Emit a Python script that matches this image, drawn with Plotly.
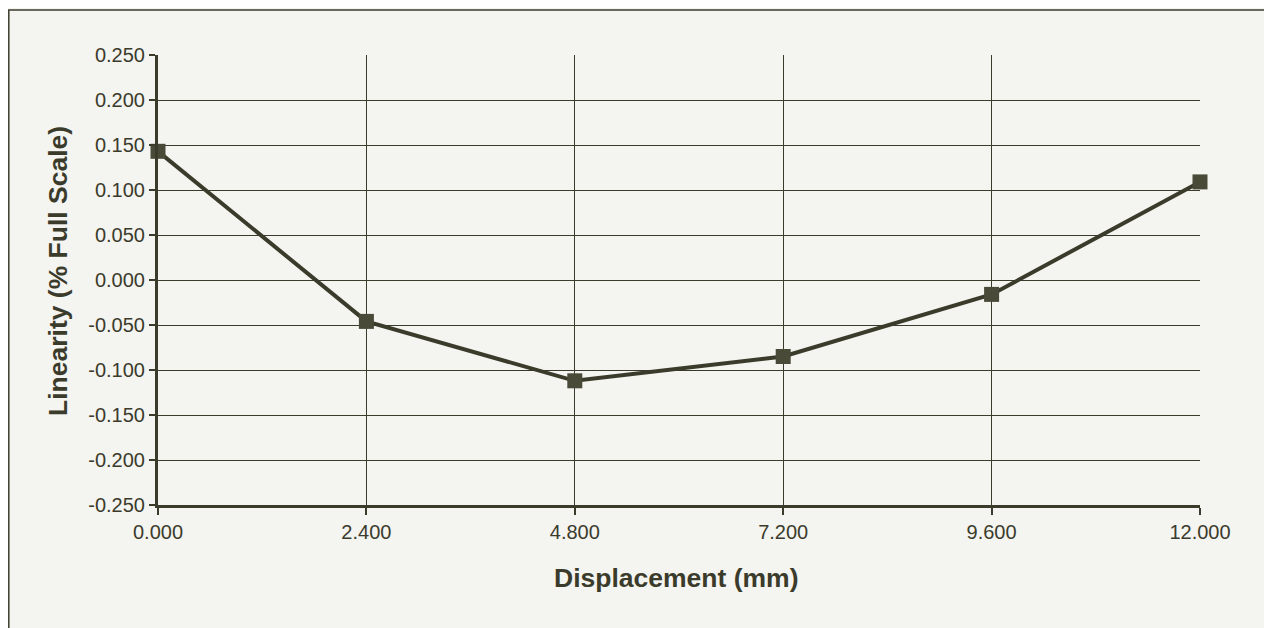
import plotly.graph_objects as go

displacement_mm = [0.0, 2.4, 4.8, 7.2, 9.6, 12.0]
linearity_pct_fs = [0.143, -0.046, -0.112, -0.085, -0.016, 0.109]

x_ticks = [0.0, 2.4, 4.8, 7.2, 9.6, 12.0]
x_tick_labels = ["0.000", "2.400", "4.800", "7.200", "9.600", "12.000"]
y_ticks = [0.25, 0.2, 0.15, 0.1, 0.05, 0.0, -0.05, -0.1, -0.15, -0.2, -0.25]
y_tick_labels = ["0.250", "0.200", "0.150", "0.100", "0.050", "0.000",
                 "-0.050", "-0.100", "-0.150", "-0.200", "-0.250"]

x_title = "Displacement (mm)"
y_title = "Linearity (% Full Scale)"

ink = "#3b3b2c"
paper = "#f4f4f0"

fig = go.Figure()
fig.add_trace(go.Scatter(
    x=displacement_mm, y=linearity_pct_fs, mode="lines+markers",
    line=dict(color=ink, width=4),
    marker=dict(symbol="square", size=15, color="#4a4a38"),
    cliponaxis=False, showlegend=False,
))

# page body has an 8px offset; figure coords = screen - 8
W, H = 1272, 628
l, r, t, b = 150, 80, 47, 131
pw = W - l - r
ph = H - t - b

def px_x(p):
    return (p - l) / pw

def px_y(p):
    return (H - b - p) / ph

fig.add_shape(type="rect", xref="paper", yref="paper",
              x0=px_x(0.8), x1=px_x(1258), y0=px_y(660), y1=px_y(2),
              line=dict(color=ink, width=1.5), fillcolor="rgba(0,0,0,0)")

font_family = "Liberation Sans, Arial, sans-serif"
fig.add_annotation(text="<b>" + x_title + "</b>", xref="paper", yref="paper",
                   x=px_x(667.5), y=px_y(570), showarrow=False,
                   xanchor="center", yanchor="middle",
                   font=dict(size=26.5, color=ink, family=font_family))
fig.add_annotation(text="<b>" + y_title + "</b>", xref="paper", yref="paper",
                   x=px_x(50), y=px_y(263), showarrow=False, textangle=-90,
                   xanchor="center", yanchor="middle",
                   font=dict(size=26.5, color=ink, family=font_family))

fig.update_layout(
    width=W, height=H,
    margin=dict(l=l, r=r, t=t, b=b),
    paper_bgcolor=paper, plot_bgcolor=paper,
    font=dict(family=font_family, color=ink, size=20),
    xaxis=dict(
        range=[0, 12], tickvals=x_ticks, ticktext=x_tick_labels,
        showgrid=True, gridcolor=ink, gridwidth=1,
        showline=True, linecolor=ink, linewidth=3,
        ticks="outside", ticklen=7, tickwidth=2, tickcolor=ink,
        zeroline=False,
        tickfont=dict(size=20, color=ink),
    ),
    yaxis=dict(
        range=[-0.25, 0.25], tickvals=y_ticks, ticktext=y_tick_labels,
        showgrid=True, gridcolor=ink, gridwidth=1,
        showline=True, linecolor=ink, linewidth=3,
        ticks="outside", ticklen=6, tickwidth=2, tickcolor=ink,
        zeroline=False,
        tickfont=dict(size=20, color=ink),
    ),
)

fig.write_html("out.html")
